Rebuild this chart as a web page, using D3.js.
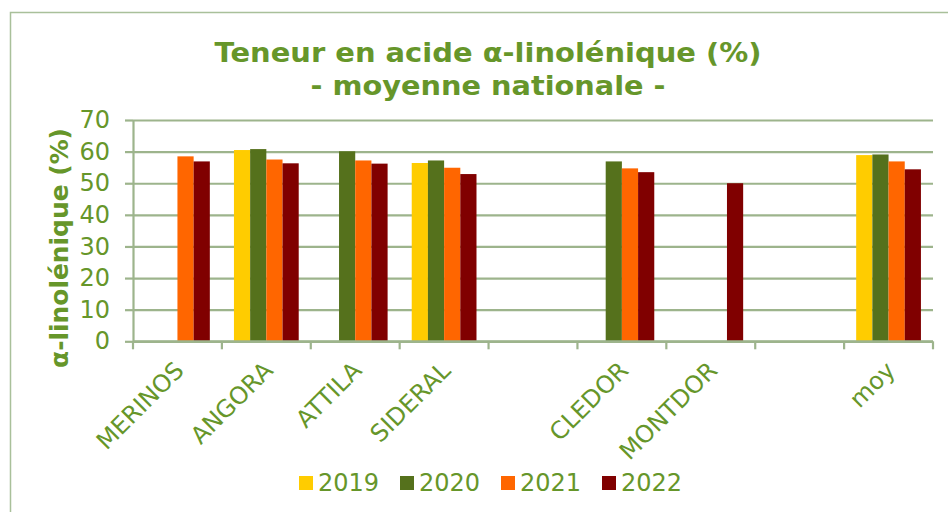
<!DOCTYPE html>
<html>
<head>
<meta charset="utf-8">
<script src="https://cdn.jsdelivr.net/npm/d3@7"></script>
<style>
  html, body { margin: 0; padding: 0; background: #fff; }
  svg { display: block; }
  text { font-family: "DejaVu Sans", Verdana, sans-serif; }
</style>
</head>
<body>
<svg id="chart" width="948" height="512"></svg>
<script>
// ---- data ----
const categories = ["MERINOS", "ANGORA", "ATTILA", "SIDERAL", "", "CLEDOR", "MONTDOR", "", "moy"];
const years = ["2019", "2020", "2021", "2022"];
const values2019 = [null, 60.5, null, 56.4, null, null, null, null, 58.9];
const values2020 = [null, 60.8, 60.1, 57.2, null, 56.9, null, null, 59.1];
const values2021 = [58.5, 57.5, 57.2, 54.9, null, 54.7, null, null, 56.9];
const values2022 = [56.9, 56.3, 56.2, 52.9, null, 53.5, 50.0, null, 54.4];
const yTicks = [0, 10, 20, 30, 40, 50, 60, 70];
const titleLines = ["Teneur en acide α-linolénique (%)", "- moyenne nationale -"];
const yTitle = "α-linolénique (%)";

(function () {
const seriesValues = [values2019, values2020, values2021, values2022];
const colors = ["#FFCC00", "#55711C", "#FF6600", "#800000"];
const textGreen = "#66962A";
const gridColor = "#9DB48C";

function fitWidth(el, target) {
  el.attr("textLength", target).attr("lengthAdjust", "spacingAndGlyphs");
}

// ---- layout ----
const svg = d3.select("#chart");
const pLeft = 133, pRight = 933, pTop = 120, pBottom = 341.3;

// chart border
svg.append("rect")
  .attr("x", 10.5).attr("y", 12.5).attr("width", 980).attr("height", 540)
  .attr("fill", "none").attr("stroke", "#A9C09A").attr("stroke-width", 1.5);

const idx = categories.map((d, i) => i);
const x0 = d3.scaleBand().domain(idx).range([pLeft, pRight]).paddingInner(0).paddingOuter(0);
const x1 = d3.scaleBand().domain(years).range([0, x0.bandwidth()]).paddingInner(0).paddingOuter(0.745);
const y = d3.scaleLinear().domain([0, 70]).range([pBottom, pTop]);

// grid lines
const grid = svg.append("g").attr("transform", `translate(${pLeft},0)`)
  .call(d3.axisLeft(y).tickValues(yTicks).tickSize(-(pRight - pLeft)).tickFormat(""));
grid.select(".domain").remove();
grid.selectAll(".tick line").attr("stroke", gridColor).attr("stroke-width", 2.2);

// y axis with outer ticks + labels
const yAxis = svg.append("g").attr("transform", `translate(${pLeft},0)`)
  .call(d3.axisLeft(y).tickValues(yTicks).tickSizeInner(8).tickSizeOuter(0).tickPadding(15));
yAxis.attr("font-size", null).attr("font-family", null);
yAxis.select(".domain").attr("stroke", gridColor).attr("stroke-width", 2.2);
yAxis.selectAll(".tick line").attr("stroke", gridColor).attr("stroke-width", 2.2);
yAxis.selectAll(".tick text").attr("fill", textGreen)
  .style("font-size", "24px").style("font-family", "'DejaVu Sans', Verdana, sans-serif");

// bars
const data = [];
categories.forEach((c, i) => {
  years.forEach((yr, j) => {
    const v = seriesValues[j][i];
    if (v != null) data.push({ i, yr, j, v });
  });
});
svg.append("g").selectAll("rect").data(data).join("rect")
  .attr("x", d => x0(d.i) + x1(d.yr))
  .attr("width", x1.bandwidth())
  .attr("y", d => y(d.v))
  .attr("height", d => y(0) - y(d.v))
  .attr("fill", d => colors[d.j]);

// x axis line + boundary ticks
const boundaries = idx.map(i => x0(i)).concat([pRight]);
const xAx = svg.append("g");
xAx.append("line").attr("x1", pLeft).attr("x2", pRight).attr("y1", y(0)).attr("y2", y(0))
  .attr("stroke", gridColor).attr("stroke-width", 2.2);
xAx.selectAll("line.tk").data(boundaries).join("line").attr("class", "tk")
  .attr("x1", d => d).attr("x2", d => d).attr("y1", y(0)).attr("y2", y(0) + 8)
  .attr("stroke", gridColor).attr("stroke-width", 2.2);

// category labels rotated
xAx.selectAll("text").data(idx).join("text")
  .attr("transform", i => `translate(${x0(i) + x0.bandwidth() / 2 + 2},366) rotate(-45)`)
  .attr("text-anchor", "end").attr("dy", "0.35em")
  .style("font-size", "24px").attr("fill", textGreen)
  .text(i => categories[i]);

// title
const titleG = svg.append("g");
const tTargets = [547, 355];
const tBase = [61.5, 95];
titleLines.forEach((t, k) => {
  const el = titleG.append("text").attr("x", 488).attr("y", tBase[k])
    .attr("text-anchor", "middle").attr("font-weight", "bold")
    .style("font-size", "27px").attr("fill", textGreen).text(t);
  fitWidth(el, tTargets[k]);
});

// y axis title
const yt = svg.append("text")
  .attr("transform", `translate(68,248) rotate(-90)`)
  .attr("text-anchor", "middle").attr("font-weight", "bold")
  .style("font-size", "24px").attr("fill", textGreen).text(yTitle);
fitWidth(yt, 240);

// legend
const legend = svg.append("g");
years.forEach((yr, j) => {
  const g = legend.append("g").attr("transform", `translate(${299 + j * 101},476)`);
  g.append("rect").attr("width", 14).attr("height", 14).attr("fill", colors[j]);
  g.append("text").attr("x", 19).attr("y", 14.8).style("font-size", "24px")
    .attr("fill", textGreen).text(yr);
});
})();
</script>
</body>
</html>
